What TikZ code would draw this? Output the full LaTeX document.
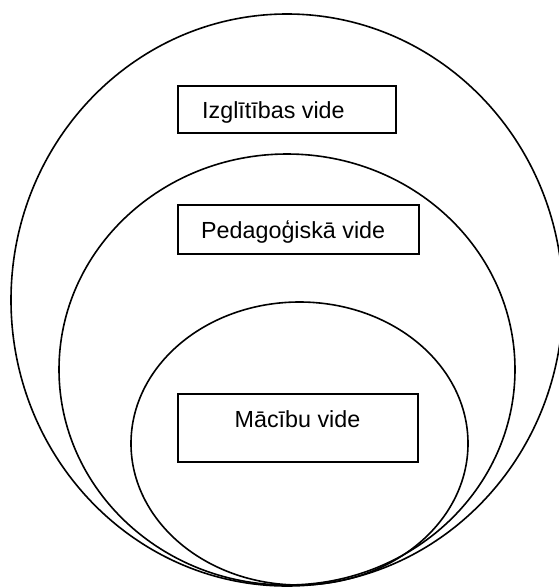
\documentclass[tikz,border=0pt]{standalone}
\usepackage{fontspec}
\setmainfont{Liberation Sans}
\begin{document}
\begin{tikzpicture}[x=1pt,y=-1pt,
  ring/.style={draw=black,line width=1.6pt},
  boxnode/.style={draw=black,line width=1.7pt,fill=white,inner sep=0pt,rectangle},
  lbl/.style={inner sep=0pt,font=\fontsize{23.3}{27}\selectfont}]
\useasboundingbox (0,0) rectangle (559,587);
\draw[ring] (287,300) ellipse [x radius=276pt, y radius=286pt];
\draw[ring] (287,369.5) ellipse [x radius=228pt, y radius=215.5pt];
\draw[ring] (299.5,443.5) ellipse [x radius=168.5pt, y radius=141.5pt];
\node[boxnode, minimum width=218pt, minimum height=47pt] (izgl) at (287,109.5) {};
\node[lbl, anchor=base west] (izgltxt) at (202,118) {Izglītības vide};
\node[boxnode, minimum width=241pt, minimum height=49pt] (ped) at (298.5,229.5) {};
\node[lbl, anchor=base west] (pedtxt) at (201,238) {Pedagoģiskā vide};
\node[boxnode, minimum width=240pt, minimum height=68pt] (mac) at (298,428) {};
\node[lbl, anchor=base] (mactxt) at (297.5,427) {Mācību vide};
\end{tikzpicture}
\end{document}
